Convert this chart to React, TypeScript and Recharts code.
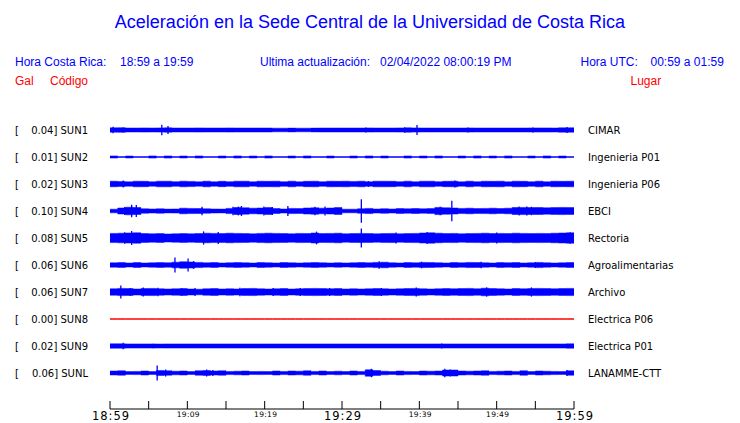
import { ComposedChart, Area, Scatter, ErrorBar, XAxis, YAxis } from 'recharts';

const BLUE = '#0000ff';
const RED = '#ff0000';
const ROW = 27;

const codes = ['SUN1', 'SUN2', 'SUN3', 'SUN4', 'SUN5', 'SUN6', 'SUN7', 'SUN8', 'SUN9', 'SUNL'];
const peaks = ['0.04', '0.01', '0.02', '0.10', '0.08', '0.06', '0.06', '0.00', '0.02', '0.06'];
const places = ['CIMAR', 'Ingenieria P01', 'Ingenieria P06', 'EBCI', 'Rectoria', 'Agroalimentarias', 'Archivo', 'Electrica P06', 'Electrica P01', 'LANAMME-CTT'];

// minutes since 18:59
const minutes = Array.from({ length: 61 }, (_, i) => i);
const tickMinutes = [0, 5, 10, 15, 20, 25, 30, 35, 40, 45, 50, 55, 60];
const tickLabels = ['18:59', '', '19:09', '', '19:19', '', '19:29', '', '19:39', '', '19:49', '', '19:59'];

// half-amplitude of each trace, one value per minute
const sun1 = [2.2,2.3,2.0,2.0,2.1,2.0,2.1,2.2,2.0,2.0, 2.0,2.1,2.0,2.0,2.0,2.1,2.0,2.0,2.0,2.0, 2.0,1.8,1.8,1.9,1.8,1.8,1.9,2.0,2.0,2.0, 2.0,2.0,2.0,2.1,2.0,2.0,2.0,2.1,2.2,2.1, 2.0,2.0,2.0,2.0,2.0,2.0,2.1,2.0,2.0,2.0, 2.0,2.0,2.0,2.0,2.1,2.1,2.1,2.0,2.2,2.2,2.2];
const sun2 = [1.1,0.5,1.0,0.5,0.5,1.1,0.5,1.1,0.5,1.0, 0.5,1.1,0.5,0.5,1.0,0.5,1.1,0.5,1.0,0.5, 1.1,0.5,0.5,1.0,0.5,1.1,0.5,0.5,1.0,0.5, 0.5,1.0,0.5,1.1,0.5,1.0,0.5,0.5,1.1,0.5, 1.0,0.5,1.1,0.5,0.5,1.0,0.5,1.1,0.5,1.0, 0.5,1.1,0.5,0.5,1.0,0.5,1.1,0.5,1.0,0.5,0.5];
const sun3 = [2.8,2.4,2.2,2.8,2.7,2.2,2.8,2.8,2.3,2.8, 2.6,2.2,2.8,2.2,2.7,2.3,2.8,2.8,2.2,2.8, 2.7,2.8,2.3,2.8,2.2,2.7,2.8,2.3,2.8,2.7, 2.8,2.6,2.8,2.2,2.8,2.8,2.7,2.3,2.8,2.2, 2.8,2.8,2.3,2.7,2.8,2.2,2.8,2.3,2.8,2.7, 2.8,2.2,2.8,2.7,2.3,2.8,2.2,2.8,2.7,2.8,2.8];
const sun4 = [1.8,3.0,3.8,3.5,2.2,2.0,2.2,1.9,2.0,2.8, 2.6,2.5,2.2,2.0,1.9,2.6,3.5,3.2,2.8,3.0, 3.4,2.4,2.0,2.6,2.4,3.0,3.2,2.8,3.0,3.4, 1.8,1.8,2.2,2.6,2.0,2.3,2.0,2.4,2.2,2.5, 2.2,2.4,3.6,3.2,3.0,2.6,2.8,2.4,2.6,2.8, 2.5,2.8,3.5,3.6,3.4,3.5,3.2,3.4,3.6,3.4,3.4];
const sun5 = [4.6,4.8,5.0,5.2,4.4,4.2,4.4,4.0,4.2,4.4, 4.2,4.4,4.8,4.6,4.4,4.8,4.6,4.4,4.2,4.6, 4.8,4.6,4.4,4.2,4.6,4.4,5.0,4.4,4.6,4.8, 4.2,4.4,4.6,4.4,4.2,4.4,4.6,4.2,4.4,4.6, 5.0,5.2,4.8,4.4,4.6,4.2,4.4,4.6,4.8,4.4, 4.6,4.4,4.8,4.6,4.4,4.6,4.4,4.8,5.0,5.2,5.2];
const sun6 = [2.2,2.4,2.0,2.4,2.0,2.2,2.4,2.2,2.8,3.2, 3.0,2.6,2.2,2.4,2.0,2.2,2.4,2.2,2.0,2.4, 2.2,2.0,2.4,2.2,2.0,2.2,2.4,2.2,2.0,2.2, 2.0,2.2,2.4,2.2,2.6,2.8,2.2,2.0,2.4,2.2, 2.6,2.4,2.2,2.0,2.4,2.2,2.6,2.4,2.2,2.0, 2.4,2.2,2.4,2.0,2.2,2.6,2.2,2.0,2.2,2.4,2.4];
const sun7 = [3.2,3.6,3.4,3.0,3.4,3.6,3.2,3.0,3.2,3.4, 3.0,2.8,3.2,3.4,3.0,3.2,3.0,3.4,3.6,3.2, 3.0,3.2,3.4,3.0,3.2,3.4,3.6,3.4,3.2,3.4, 3.0,3.2,3.0,3.2,3.4,3.2,3.0,3.2,3.4,3.6, 3.2,3.0,3.2,3.4,3.2,3.4,3.6,3.2,3.8,3.4, 3.2,3.0,3.4,3.2,3.4,3.6,3.4,3.2,3.4,3.6,3.6];
const sun8 = [0,0,0,0,0,0,0,0,0,0, 0,0,0,0,0,0,0,0,0,0, 0,0,0,0,0,0,0,0,0,0, 0,0,0,0,0,0,0,0,0,0, 0,0,0,0,0,0,0,0,0,0, 0,0,0,0,0,0,0,0,0,0,0];
const sun9 = [2.2,2.2,2.1,2.1,2.1,2.1,2.0,2.1,2.1,2.1, 2.1,2.1,2.1,2.1,2.1,2.1,2.1,2.1,2.1,2.1, 2.1,2.1,2.1,2.1,2.1,2.1,2.1,2.1,2.1,2.1, 2.1,2.1,2.1,2.1,2.1,2.1,2.1,2.1,2.1,2.1, 2.1,2.1,2.1,2.1,2.1,2.1,2.1,2.1,2.1,2.1, 2.1,2.1,2.1,2.1,2.1,2.1,2.1,2.1,2.1,2.2,2.2];
const sunl = [2.0,2.2,1.4,1.6,2.0,1.4,2.4,2.2,1.8,2.0, 1.4,2.2,2.4,2.0,2.2,1.6,1.8,2.0,1.4,1.6, 1.4,2.0,1.6,2.0,1.8,2.2,1.6,2.0,1.4,1.8, 1.4,2.0,1.6,3.2,2.4,1.8,1.4,2.0,1.6,1.4, 2.0,1.8,2.0,3.0,3.0,2.0,1.8,2.0,2.2,1.6, 1.8,2.0,1.6,2.2,1.4,2.0,1.8,1.6,1.4,2.2,2.2];
const amps = [sun1, sun2, sun3, sun4, sun5, sun6, sun7, sun8, sun9, sunl];

// short spikes: [minute, half-amplitude]
const spikes1 = [[0.4, 3.2], [1.7, 2.6], [6.7, 5.2], [7.5, 4.0], [33.1, 2.6], [38.1, 2.6], [39.7, 5.0], [46.3, 2.4], [54.7, 2.4], [59.1, 3.0]];
const spikes2: number[][] = [];
const spikes3 = [[1.7, 3.6], [33.4, 3.0], [44.6, 3.5]];
const spikes4 = [[1.9, 4.0], [2.8, 6.3], [3.4, 6.0], [11.9, 4.2], [15.9, 4.2], [16.6, 4.4], [17.0, 5.0], [19.9, 4.5], [21.0, 4.0], [23.0, 5.0], [26.5, 4.2], [27.8, 4.5], [32.5, 11.8], [42.7, 4.2], [44.2, 10.2], [52.9, 4.5], [53.9, 4.5], [54.5, 4.2]];
const spikes5 = [[1.9, 5.8], [2.8, 7.0], [12.1, 6.6], [14.0, 6.0], [26.7, 6.4], [32.5, 9.6], [37.0, 5.6], [41.0, 6.0], [50.0, 5.5], [59.5, 5.8]];
const spikes6 = [[8.4, 7.5], [10.1, 6.5], [10.8, 3.8], [34.8, 3.8], [40.3, 3.2], [48.0, 3.2], [55.0, 3.0]];
const spikes7 = [[1.4, 6.6], [2.6, 4.0], [4.3, 4.6], [6.2, 4.2], [9.3, 3.8], [11.0, 4.0], [16.8, 4.2], [21.1, 4.0], [24.6, 4.0], [28.4, 4.0], [35.1, 4.0], [39.6, 4.5], [48.7, 4.6], [54.5, 4.6]];
const spikes8: number[][] = [];
const spikes9 = [[1.7, 3.2], [5.6, 2.2], [42.9, 2.6]];
const spikesL = [[6.1, 7.4], [7.2, 3.6], [12.5, 3.6], [13.3, 3.0], [33.8, 4.2], [43.3, 4.2], [44.0, 3.6], [59.1, 3.0]];
const spikes = [spikes1, spikes2, spikes3, spikes4, spikes5, spikes6, spikes7, spikes8, spikes9, spikesL];

const center = (i: number) => ROW / 2 + ROW * i;
const centers = codes.map((_, i) => center(i));
const Y_MAX = ROW * 10 + 22.5;

const rows = minutes.map((t, k) => {
  const r: any = { t };
  amps.forEach((a, i) => {
    r['s' + i] = [center(i) - a[k], center(i) + a[k]];
  });
  return r;
});

const spikePts = spikes.flatMap((list, i) => list.map(([t, a]) => ({ t, y: center(i), err: a })));

const FONT = 'DejaVu Sans';
const HEAD = '"Liberation Sans", Arial, sans-serif';

function LeftTick({ x, y, payload }: any) {
  const i = centers.indexOf(payload.value);
  return (
    <g fontFamily={FONT} fontSize={10} fill="#000">
      <text x={x - 95} y={y} dy="0.35em">[</text>
      <text x={x - 22} y={y} dy="0.35em" textAnchor="end">{`${peaks[i]}] ${codes[i]}`}</text>
    </g>
  );
}

function RightTick({ x, y, payload }: any) {
  const i = centers.indexOf(payload.value);
  return (
    <text x={x + 14} y={y} dy="0.35em" fontFamily={FONT} fontSize={10} fill="#000">
      {places[i]}
    </text>
  );
}

function TimeTick({ x, y, payload }: any) {
  const i = tickMinutes.indexOf(payload.value);
  const big = i % 6 === 0;
  return (
    <g>
      <line x1={x} y1={y - 8} x2={x} y2={y} stroke="#000" />
      {tickLabels[i] && (
        <text
          x={x + 1}
          y={big ? y + 10.5 : y + 8}
          textAnchor="middle"
          fontFamily={FONT}
          fontSize={big ? 11.5 : 7.5}
          letterSpacing={big ? 1 : 0.3}
          fill="#000"
        >
          {tickLabels[i]}
        </text>
      )}
    </g>
  );
}

export default function App() {
  return (
    <div style={{ position: 'absolute', left: 0, top: 0, width: 740, height: 423, background: '#fff' }}>
      <ComposedChart width={740} height={423} data={rows} margin={{ top: 116.5, right: 0, bottom: 0, left: 0 }}>
        <XAxis
          dataKey="t"
          type="number"
          domain={[0, 60]}
          ticks={tickMinutes}
          interval={0}
          height={14}
          tickLine={false}
          tickSize={0}
          tickMargin={0}
          axisLine={{ stroke: '#000' }}
          tick={<TimeTick />}
        />
        <YAxis
          yAxisId="l"
          type="number"
          domain={[0, Y_MAX]}
          reversed
          allowDataOverflow
          ticks={centers}
          interval={0}
          width={110}
          axisLine={false}
          tickLine={false}
          tickSize={0}
          tickMargin={0}
          tick={<LeftTick />}
        />
        <YAxis
          yAxisId="r"
          orientation="right"
          type="number"
          domain={[0, Y_MAX]}
          reversed
          allowDataOverflow
          ticks={centers}
          interval={0}
          width={166}
          axisLine={false}
          tickLine={false}
          tickSize={0}
          tickMargin={0}
          tick={<RightTick />}
        />
        {amps.map((a, i) => {
          const flat = a.every((v) => v === 0);
          return (
            <Area
              key={codes[i]}
              yAxisId="l"
              type="stepAfter"
              dataKey={'s' + i}
              stroke={flat ? RED : BLUE}
              strokeWidth={flat ? 1 : 0.5}
              fill={flat ? 'none' : BLUE}
              fillOpacity={1}
              dot={false}
              activeDot={false}
              isAnimationActive={false}
            />
          );
        })}
        <Scatter yAxisId="l" data={spikePts} dataKey="y" shape={() => <g />} isAnimationActive={false}>
          <ErrorBar dataKey="err" direction="y" width={0} stroke={BLUE} strokeWidth={1.3} isAnimationActive={false} />
        </Scatter>
      </ComposedChart>
      <svg width={740} height={423} style={{ position: 'absolute', left: 0, top: 0, pointerEvents: 'none' }} fontFamily={HEAD}>
        <text x={370} y={28} textAnchor="middle" fontSize={18} fill={BLUE}>
          Aceleración en la Sede Central de la Universidad de Costa Rica
        </text>
        <g fontSize={12} fill={BLUE}>
          <text x={15} y={65.5}>Hora Costa Rica:</text>
          <text x={120} y={65.5}>18:59 a 19:59</text>
          <text x={260} y={65.5}>Ultima actualización:</text>
          <text x={380} y={65.5}>02/04/2022 08:00:19 PM</text>
          <text x={580.5} y={65.5}>Hora UTC:</text>
          <text x={650.5} y={65.5}>00:59 a 01:59</text>
        </g>
        <g fontSize={12} fill={RED}>
          <text x={15} y={85}>Gal</text>
          <text x={50} y={85}>Código</text>
          <text x={630.5} y={85}>Lugar</text>
        </g>
      </svg>
    </div>
  );
}
